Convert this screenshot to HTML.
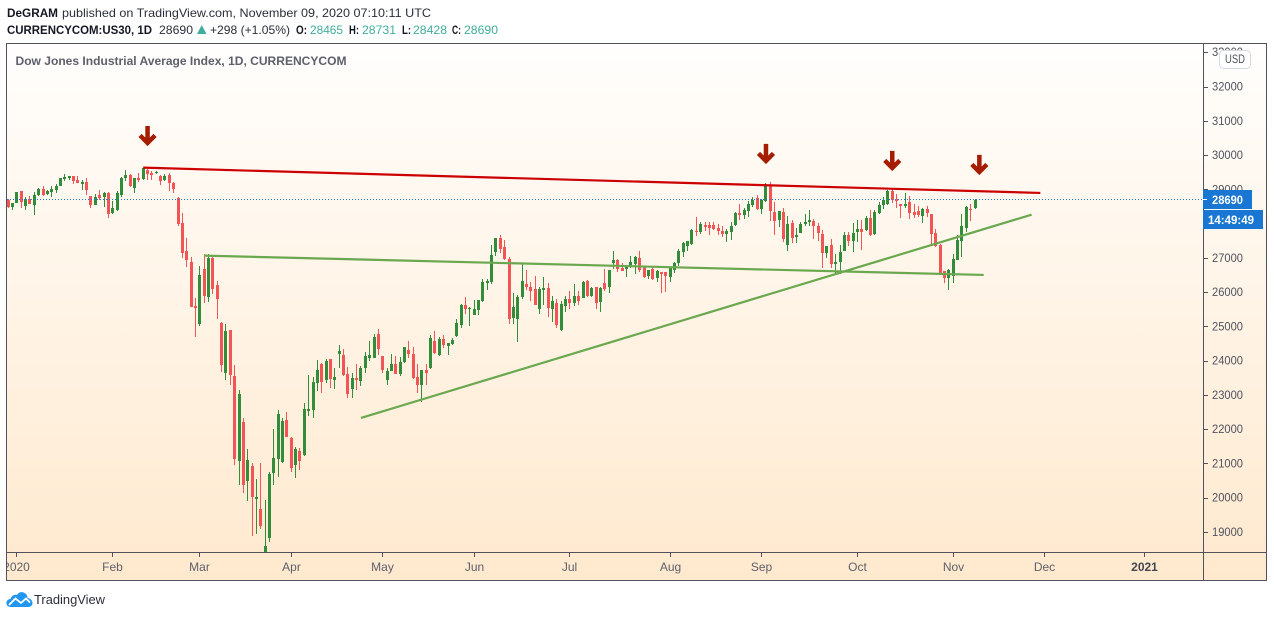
<!DOCTYPE html>
<html lang="en">
<head>
<meta charset="utf-8">
<title>Dow Jones Industrial Average Index, 1D</title>
<style>
html,body{margin:0;padding:0;background:#fff;width:1274px;height:618px;overflow:hidden}
svg{display:block;font-family:"Liberation Sans",Arial,sans-serif}
</style>
</head>
<body>
<svg id="chart" xmlns="http://www.w3.org/2000/svg" width="1274" height="618" viewBox="0 0 1274 618">
  <defs>
    <linearGradient id="paneBg" x1="0" y1="0" x2="0" y2="1">
      <stop offset="0" stop-color="#fffefd"/>
      <stop offset="1" stop-color="#ffe9ce"/>
    </linearGradient>
    <clipPath id="plotClip"><rect x="7" y="44" width="1196" height="508"/></clipPath>
    <clipPath id="timeClip"><rect x="7" y="553" width="1196" height="28"/></clipPath>
    <clipPath id="priceClip"><rect x="1204" y="44" width="62" height="508"/></clipPath>
  </defs>

  <g font-size="12" fill="#131722">
    <text x="7" y="17" font-weight="bold" textLength="51" lengthAdjust="spacingAndGlyphs">DeGRAM</text>
    <text x="62" y="17" fill="#2a2e39" textLength="369" lengthAdjust="spacingAndGlyphs">published on TradingView.com, November 09, 2020 07:10:11 UTC</text>
    <text x="7" y="34" font-weight="bold" textLength="145" lengthAdjust="spacingAndGlyphs">CURRENCYCOM:US30, 1D</text>
    <text x="159" y="34" fill="#2a2e39" textLength="34" lengthAdjust="spacingAndGlyphs">28690</text>
    <polygon points="197,34 206.500,34 201.750,25" fill="#3fae9c"/>
    <text x="210" y="34" fill="#2a2e39" textLength="80" lengthAdjust="spacingAndGlyphs">+298 (+1.05%)</text>
    <text x="296" y="34" font-weight="bold" textLength="11" lengthAdjust="spacingAndGlyphs">O:</text>
    <text x="310" y="34" fill="#3fae9c" textLength="33" lengthAdjust="spacingAndGlyphs">28465</text>
    <text x="349" y="34" font-weight="bold" textLength="10" lengthAdjust="spacingAndGlyphs">H:</text>
    <text x="362" y="34" fill="#3fae9c" textLength="34" lengthAdjust="spacingAndGlyphs">28731</text>
    <text x="402" y="34" font-weight="bold" textLength="9" lengthAdjust="spacingAndGlyphs">L:</text>
    <text x="413" y="34" fill="#3fae9c" textLength="34" lengthAdjust="spacingAndGlyphs">28428</text>
    <text x="452" y="34" font-weight="bold" textLength="9" lengthAdjust="spacingAndGlyphs">C:</text>
    <text x="464" y="34" fill="#3fae9c" textLength="34" lengthAdjust="spacingAndGlyphs">28690</text>
  </g>

  <rect x="6.500" y="43.500" width="1260" height="537" fill="url(#paneBg)"/>

  <g id="candles" clip-path="url(#plotClip)" shape-rendering="crispEdges"></g>
  <line id="lastPriceLine" x1="7" x2="1203" stroke="#1976d2" stroke-width="1" stroke-dasharray="1 2" shape-rendering="crispEdges"/>
  <g id="trendlines" clip-path="url(#plotClip)"></g>
  <g id="arrows" clip-path="url(#plotClip)"></g>

  <text x="15.500" y="65" font-size="12" font-weight="bold" fill="#5d606b" textLength="331" lengthAdjust="spacingAndGlyphs">Dow Jones Industrial Average Index, 1D, CURRENCYCOM</text>

  <g id="priceAxis" clip-path="url(#priceClip)"></g>
  <g id="timeAxis"></g>

  <g fill="none" stroke="#50535e" stroke-width="1" shape-rendering="crispEdges">
    <rect x="6.500" y="43.500" width="1260" height="537"/>
    <line x1="1203.500" y1="44" x2="1203.500" y2="581"/>
    <line x1="7" y1="552.500" x2="1266" y2="552.500"/>
  </g>

  <g>
    <rect x="1219.500" y="50.500" width="31" height="18" rx="4" fill="#ffffff" stroke="#d6d8e2"/>
    <text x="1225" y="63" font-size="11.500" fill="#50535e" textLength="20" lengthAdjust="spacingAndGlyphs">USD</text>
  </g>

  <g>
    <rect x="1203" y="190" width="49" height="19" fill="#1976d2"/>
    <line x1="1203" y1="199.500" x2="1207" y2="199.500" stroke="#ffffff" shape-rendering="crispEdges"/>
    <text x="1212" y="204" font-size="12" font-weight="bold" fill="#ffffff" textLength="31" lengthAdjust="spacingAndGlyphs">28690</text>
  </g>
  <g>
    <rect x="1203" y="210" width="60" height="19" fill="#1976d2"/>
    <text x="1208" y="224" font-size="12" font-weight="bold" fill="#ffffff" textLength="46" lengthAdjust="spacingAndGlyphs">14:49:49</text>
  </g>

  <g>
    <path d="M11 607 C7.500 607 6 604.500 6.500 602 C7 600 9 599 10.500 599 C11.500 595.500 14.500 594 17 595 C18.500 592 22 591.500 24.500 593 C26.500 594 27.500 596 27.500 598 C30.500 598.500 32.500 600.500 32.500 603 C32.500 605.500 30.500 607 28 607 Z" fill="#2196f3"/>
    <polyline points="9,605 15.500,598.500 21,603 26,598.500 30,602.500" fill="none" stroke="#ffffff" stroke-width="1.800"/>
    <text x="34" y="604" font-size="13" fill="#2a2e39" textLength="71" lengthAdjust="spacingAndGlyphs">TradingView</text>
  </g>

<script>
var opens = [
28690,28476,28612,28943,28525,28709,28544,28836,29011,28865,
28923,28982,29098,29303,29332,29390,29274,29157,29215,28807,
28544,28836,28778,28894,28311,28398,28836,29332,29420,29040,
29332,29303,29565,29478,29488,29390,29274,29420,29186,28748,
28019,27202,26881,25597,25072,26676,25859,26997,26210,25091,
23642,24897,23554,21074,22212,20490,20928,19965,19673,18200,
18827,20724,21132,21045,22270,21745,20957,21366,21249,22533,
22562,23350,23905,23438,24051,23438,24196,24167,23613,23175,
23496,23408,23788,24080,24080,24780,24138,23438,23700,23904,
23613,23963,24313,24196,23525,23292,23729,23788,24576,24167,
24634,24430,24488,24722,25043,25626,25510,25334,25480,25743,
26268,26297,27172,27581,27318,26968,25246,25217,25859,26238,
26151,26092,25509,26063,26122,25509,25684,24896,25596,25801,
25684,25888,25830,26326,25888,26151,25713,26268,26151,26851,
26939,26705,26676,26734,26822,26997,26734,26472,26676,26413,
26589,26589,26443,26647,26851,27172,27347,27406,27785,27756,
27960,27960,27960,27872,27785,27697,27756,27960,28310,28252,
28369,28544,28748,28427,28660,29127,28339,28106,28340,27377,
28019,27611,27727,27990,28048,28077,27931,27698,27144,27377,
26823,26881,27202,27669,27494,27756,27844,27815,28165,27698,
28311,28544,28573,28953,28720,28573,28515,28632,28340,28369,
28223,28427,28282,27727,27377,26618,26414,26472,26939,27494,
27873,28427,28465];
var highs = [
28710,28612,28923,28943,28778,28807,28923,29040,29098,28982,
29098,29157,29332,29449,29390,29390,29390,29274,29332,28807,
28865,28982,28923,28923,28661,28953,29361,29565,29449,29332,
29478,29624,29595,29536,29536,29420,29449,29478,29215,28778,
28311,27581,27027,25830,26764,27114,27114,27027,26326,25130,
25072,24897,23875,23146,22329,21424,21016,20549,21016,19936,
20753,22008,22562,22329,22504,21774,21482,21453,22767,23584,
23525,24021,23934,24051,24051,23788,24459,24342,23817,23642,
23905,23846,24255,24576,24780,24926,24138,23788,24196,24138,
24109,24401,24576,24401,23904,23729,23904,24751,24867,24692,
24751,24517,24663,25218,25655,25860,25568,25772,25772,26385,
26385,27377,27581,27668,27522,27026,25976,25917,26822,26647,
26297,26472,26151,26443,26268,25888,25800,25742,25888,26034,
26238,26034,26326,26355,26151,26151,26151,26676,26647,27201,
26968,26851,26793,27055,27055,27201,26764,26647,26734,26647,
26589,26589,26734,26880,27260,27464,27493,27843,28193,28048,
28048,28048,28048,27989,27931,27843,28048,28339,28573,28456,
28660,28777,28836,28719,29186,29215,28631,28369,28457,28223,
28106,27873,28048,28282,28398,28136,28019,27815,27348,27552,
27114,27377,27756,27756,28019,28106,28106,28223,28398,28398,
28632,28778,28982,29011,28856,28573,28894,28807,28573,28515,
28457,28515,28282,27844,27406,26618,26680,27114,27669,28282,
28515,28573,28731];
var lows = [
28447,28398,28612,28466,28398,28573,28252,28807,28807,28836,
28778,28894,29098,29244,29274,29157,29186,28982,28836,28456,
28544,28690,28486,28165,28281,28369,28778,29244,29069,28894,
29215,29274,29274,29274,29449,29128,29244,28953,28894,27931,
26997,26735,25568,24692,25013,25684,25713,25947,25217,23671,
23438,23292,20957,20374,20140,19907,18885,18944,19090,18100,
18710,20374,20607,21016,21774,20753,20578,20811,21220,22387,
22329,23117,23058,23350,23204,23175,23788,23554,22912,22912,
23146,23263,23642,23992,24080,24167,23642,23292,23700,23613,
23554,23934,24080,23467,23058,22796,23292,23758,24196,24138,
24372,24167,24459,24692,24955,25364,25013,25334,25334,25714,
26064,26239,27055,27143,26939,25071,25071,24546,25801,26063,
25742,25626,25363,25626,25275,25129,24954,24867,25421,25509,
25596,25626,25830,25859,25859,25509,25421,26034,25976,26676,
26589,26618,26443,26705,26530,26589,26414,26384,26355,26297,
25976,26005,26297,26559,26764,27026,27201,27376,27639,27697,
27785,27668,27814,27668,27610,27464,27522,27931,28106,28135,
28193,28485,28398,28281,28631,28077,27668,27902,27465,27202,
27435,27435,27727,27932,27932,27552,27494,26706,27000,26706,
26531,26531,27202,27348,27173,27465,27231,27786,27640,27669,
28282,28427,28544,28603,28457,28165,28457,28136,28165,28194,
28019,28194,27377,27319,26502,26268,26064,26268,26939,27027,
27756,28077,28428];
var closes = [
28495,28593,28923,28641,28709,28573,28836,29011,28836,28943,
29011,29098,29332,29361,29390,29244,29186,29215,28982,28544,
28778,28739,28894,28281,28456,28894,29332,29420,29098,29332,
29274,29624,29449,29420,29507,29244,29390,29186,29011,27990,
27143,26939,25568,25538,26501,25889,26997,26093,25801,23875,
24867,23584,21132,23029,20374,21103,20024,20024,19177,18594,
20695,21162,22446,22241,21774,20870,21424,21074,22591,22591,
23379,23730,23379,23992,23467,23525,24284,23584,23029,23496,
23438,23788,24138,24167,24692,24342,23729,23700,23904,23613,
23963,24401,24196,23496,23292,23729,23642,24663,24226,24634,
24459,24517,24605,25101,25626,25510,25539,25510,25772,26297,
26327,27085,27581,27260,26968,25217,25567,25859,26326,26151,
26034,25626,26092,26122,25538,25742,25042,25655,25801,25684,
25888,25742,26297,25888,26122,25684,26122,26092,26647,26939,
26676,26618,26764,26880,27026,26647,26443,26647,26384,26618,
26530,26472,26705,26851,27201,27435,27493,27814,27756,27989,
27902,27872,27843,27785,27697,27785,27931,28310,28252,28398,
28573,28690,28427,28690,29098,28369,28077,28369,27552,27990,
27581,27669,27990,28048,28106,27931,27727,27144,27348,26823,
26881,27173,27669,27494,27727,27844,27756,28165,27669,28340,
28544,28690,28953,28690,28661,28515,28573,28311,28252,28252,
28427,28311,27698,27348,26531,26414,26648,26968,27523,27931,
28486,28398,28690];
var lastPrice = 28690;
var priceTickValues = [33000,32000,31000,30000,29000,28000,27000,26000,25000,24000,23000,22000,21000,20000,19000];
var timeTickLabels = ["2020","Feb","Mar","Apr","May","Jun","Jul","Aug","Sep","Oct","Nov","Dec","2021"];
var timeTickBars = [2,24,44,65,86,107,129,152,173,195,217,238,261];
var redTrendBars = [31,237];
var redTrendPrices = [29632,28894];
var greenFlatBars = [45,224];
var greenFlatPrices = [27065,26501];
var greenRisingBars = [81,235];
var greenRisingPrices = [22329,28261];
var arrowBars = [32,174,203,223];
var arrowPrices = [30849,30324,30120,30003];

var SVG_NS = "http://www.w3.org/2000/svg";
function xScale(bar) { return 8.2 + 4.355 * bar; }
function yScale(price) { return 86.5 + (32000 - price) * 0.03427; }
function make(tag, attrs, parent) {
  var el = document.createElementNS(SVG_NS, tag);
  for (var k in attrs) { el.setAttribute(k, attrs[k]); }
  parent.appendChild(el);
  return el;
}

var candlesLayer = document.getElementById("candles");
closes.forEach(function (close, i) {
  var open = opens[i];
  var color = close >= open ? "#338c3a" : "#f25555";
  var px = Math.floor(xScale(i));
  var bodyTop = Math.round(yScale(Math.max(open, close)));
  var bodyBottom = Math.round(yScale(Math.min(open, close)));
  var wickTop = Math.round(yScale(highs[i]));
  var wickBottom = Math.round(yScale(lows[i]));
  var g = make("g", {}, candlesLayer);
  
  
  var wick = make("rect", { x: px, y: wickTop, width: 1, height: Math.max(1, wickBottom - wickTop), fill: color }, g);
  
  
  var body = make("rect", { x: px - 1, y: bodyTop, width: 3, height: Math.max(1, bodyBottom - bodyTop), fill: color }, g);
  
  
});

var lastLine = document.getElementById("lastPriceLine");
var lastY = Math.floor(yScale(lastPrice)) + 0.5;
lastLine.setAttribute("y1", lastY);
lastLine.setAttribute("y2", lastY);

var trendLayer = document.getElementById("trendlines");
function drawTrend(bars, prices, color, width) {
  return make("line", {
    x1: xScale(bars[0]), y1: yScale(prices[0]),
    x2: xScale(bars[1]), y2: yScale(prices[1]),
    stroke: color, "stroke-width": width
  }, trendLayer);
}
var greenFlat = drawTrend(greenFlatBars, greenFlatPrices, "#6aa84f", 2.2);


var greenRising = drawTrend(greenRisingBars, greenRisingPrices, "#6aa84f", 2.2);


var redTrend = drawTrend(redTrendBars, redTrendPrices, "#cc0000", 2.2);



var arrowLayer = document.getElementById("arrows");
arrowBars.forEach(function (bar, i) {
  var cx = xScale(bar);
  var top = yScale(arrowPrices[i]);
  var arrow = make("path", {
    d: "M" + cx + " " + top + "V" + (top + 17) +
       "M" + (cx - 7.5) + " " + (top + 9.5) + "L" + cx + " " + (top + 17) + "L" + (cx + 7.5) + " " + (top + 9.5),
    fill: "none", stroke: "#a61c00", "stroke-width": 4.5, "stroke-linecap": "butt", "stroke-linejoin": "miter"
  }, arrowLayer);
  
  
});

var priceAxis = document.getElementById("priceAxis");
priceTickValues.forEach(function (value) {
  var y = yScale(value);
  var tick = make("line", { x1: 1204, x2: 1208, y1: Math.round(y) + 0.5, y2: Math.round(y) + 0.5, stroke: "#50535e", "shape-rendering": "crispEdges" }, priceAxis);
  
  
  var label = make("text", { x: 1212, y: y + 4, "font-size": 12, fill: "#50535e", textLength: 31, lengthAdjust: "spacingAndGlyphs" }, priceAxis);
  label.textContent = String(value);
  
  
});

var timeAxis = document.getElementById("timeAxis");
timeTickLabels.forEach(function (text, i) {
  var x = Math.floor(xScale(timeTickBars[i]));
  var tick = make("line", { x1: x + 0.5, x2: x + 0.5, y1: 553, y2: 557, stroke: "#50535e", "shape-rendering": "crispEdges" }, timeAxis);
  
  
  var isYear = text === "2021";
  var label = make("text", { x: x + 0.5, y: 571, "font-size": 12, "text-anchor": "middle", fill: isYear ? "#434651" : "#5d606b", "font-weight": isYear ? "bold" : "normal", "clip-path": "url(#timeClip)" }, timeAxis);
  label.textContent = text;
  
  
});
</script>
</svg>
</body>
</html>
